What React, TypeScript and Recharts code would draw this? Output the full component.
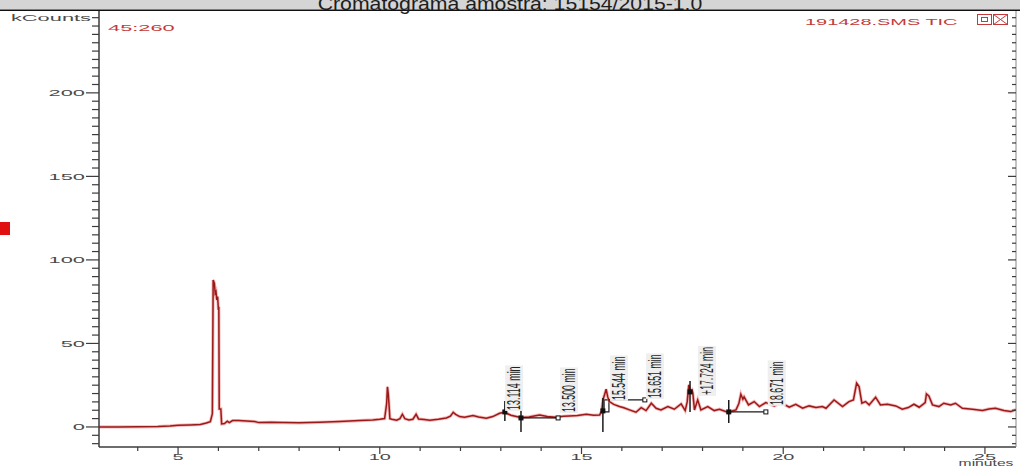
import { LineChart, Line, XAxis, YAxis, ReferenceLine, ReferenceDot, ReferenceArea } from "recharts";

// retention time (min) and TIC signal (kCounts)
const times = [
  3.04, 3.5, 4.0, 4.5, 4.8, 5.0, 5.3, 5.55, 5.7, 5.8, 5.85, 5.87, 5.9, 5.92, 5.94, 5.96, 5.98, 6.0, 6.01, 6.02,
  6.06, 6.08, 6.15, 6.22, 6.27, 6.35, 6.5, 6.7, 6.9, 7.0, 7.3, 7.6, 8.0, 8.5, 9.0, 9.5, 9.83, 10.0, 10.12, 10.17,
  10.19, 10.21, 10.23, 10.25, 10.3, 10.42, 10.5, 10.56, 10.62, 10.72, 10.82, 10.9, 10.96, 11.1, 11.24, 11.45, 11.65,
  11.75, 11.82, 11.88, 11.98, 12.1, 12.31, 12.45, 12.64, 12.8, 12.97, 13.09, 13.25, 13.49, 13.7, 13.96, 14.15, 14.37,
  14.55, 14.7, 14.9, 15.12, 15.3, 15.45, 15.5, 15.53, 15.58, 15.61, 15.65, 15.69, 15.8, 15.94, 16.05, 16.19, 16.35,
  16.48, 16.6, 16.73, 16.85, 16.97, 17.14, 17.3, 17.47, 17.57, 17.62, 17.66, 17.7, 17.74, 17.76, 17.8, 17.88, 17.96,
  18.13, 18.29, 18.42, 18.62, 18.83, 18.9, 18.95, 19.0, 19.03, 19.14, 19.28, 19.41, 19.57, 19.78, 19.94, 20.15, 20.31,
  20.48, 20.64, 20.81, 20.97, 21.06, 21.26, 21.47, 21.63, 21.74, 21.82, 21.88, 21.95, 22.04, 22.13, 22.29, 22.41,
  22.58, 22.79, 22.95, 23.1, 23.24, 23.37, 23.52, 23.55, 23.61, 23.7, 23.86, 23.98, 24.15, 24.27, 24.44, 24.69, 24.94,
  25.1, 25.26, 25.47, 25.64, 25.77,
];
const kcounts = [
  0.0, 0.0, 0.1, 0.2, 0.6, 1.0, 1.2, 1.5, 2.4, 3.2, 8, 88, 86, 80, 81, 76, 78, 70, 72, 10.8,
  10.8, 1.8, 2.0, 3.4, 2.6, 3.8, 3.8, 3.5, 3.2, 2.6, 2.8, 2.6, 2.5, 2.8, 3.2, 3.8, 4.2, 4.6, 5.0, 14,
  24, 20, 13, 5, 4.6, 4.0, 5.0, 7.6, 5.0, 4.2, 4.6, 7.6, 4.8, 4.4, 4.0, 4.6, 5.4,
  6.5, 8.8, 7.5, 6.2, 5.8, 6.8, 6.0, 5.2, 6.2, 8.2, 8.8, 7.0, 5.6, 6.0, 7.2, 6.2, 5.8,
  6.4, 6.6, 6.8, 7.6, 7.0, 7.2, 9.5, 16, 20, 22.6, 18, 15.2, 13.5, 12.2, 11.5, 10.2, 8.8,
  11.6, 9.8, 14.2, 11.2, 10.2, 12.2, 10.6, 13.8, 9.8, 15, 25.2, 21, 22, 20.2, 10.2, 16.2, 10.2,
  12.2, 9.8, 10.6, 8.8, 10.2, 14, 19.6, 16.6, 18, 13.2, 15.2, 12.2, 14.6, 12.6, 14.6, 11.8, 13.6,
  11.2, 12.6, 11.6, 12.2, 11.2, 16.2, 12.2, 15.2, 16.2, 26.2, 24.2, 14.2, 15.2, 13.2, 17.8, 13.2,
  13.6, 12.6, 10.6, 11.6, 13.6, 11.8, 14.6, 19.8, 18.6, 13.2, 12.2, 14.2, 13.2, 14.2, 11.2, 10.6, 9.8,
  10.8, 11.2, 9.8, 9.2, 10.4,
];
const data = times.map((t, i) => ({ t, v: kcounts[i] }));

const yLabelTicks = [0, 50, 100, 150, 200];
const xLabelTicks = [5, 10, 15, 20, 25];
const yTicks = Array.from({ length: 52 }, (_, i) => -10 + i * 5);
const xTicks = Array.from({ length: 22 }, (_, i) => 4 + i);

// peak annotations
const peakLabels = ["13.114 min", "13.500 min", "15.544 min", "15.651 min", "+17.724 min", "18.671 min"];
const peakLabelT = [13.33, 14.69, 15.93, 16.82, 18.11, 19.84];
const peakLabelV = [10.2, 9.0, 16.2, 17.4, 19.2, 13.2];

const markT = [13.1, 13.5, 15.53, 17.69, 18.65];
const markV = [9.0, 5.4, 9.6, 21.0, 9.0];
const markTop = [15.6, 13.2, 17.4, 27.5, 16.2];
const markBottom = [3.6, -3.0, -3.0, 9.0, 2.4];

const baseStart = [13.5, 15.68, 18.65];
const baseEnd = [14.42, 16.57, 19.57];
const baseV = [5.4, 16.2, 9.0];

const FONT = "'Liberation Sans', Arial, sans-serif";
const AXIS = "#3c3c3c";
const LABEL = "#4a4a4a";
const RED = "#c23a3a";

function LeftTick(props: any) {
  const { x, y, payload } = props;
  const v = payload.value;
  const major = v % 50 === 0;
  const len = major ? 13 : 7;
  const label = v === 245 ? "kCounts" : yLabelTicks.includes(v) ? String(v) : null;
  return (
    <g>
      <line x1={x - len} x2={x} y1={y} y2={y} stroke={AXIS} strokeWidth={1.2} />
      {label && (
        <text
          transform={`translate(${x - len - 1},${y + 3.5}) scale(2.3,1)`}
          textAnchor="end"
          fontSize={9.5}
          fontFamily={FONT}
          fill={LABEL}
        >
          {label}
        </text>
      )}
    </g>
  );
}

function RightTick(props: any) {
  const { x, y, payload } = props;
  const len = payload.value % 50 === 0 ? 8 : 4;
  return <line x1={x - len} x2={x} y1={y} y2={y} stroke={AXIS} strokeWidth={1.2} />;
}

function BottomTick(props: any) {
  const { x, y, payload } = props;
  const v = payload.value;
  const major = xLabelTicks.includes(v);
  return (
    <g>
      <line x1={x} x2={x} y1={y} y2={y + (major ? 7 : 4)} stroke={AXIS} strokeWidth={1.2} />
      {major && (
        <text
          transform={`translate(${x},${y + 13}) scale(2.1,1)`}
          textAnchor="middle"
          fontSize={9.5}
          fontFamily={FONT}
          fill={LABEL}
        >
          {v}
        </text>
      )}
    </g>
  );
}

function PeakLabel({ cx, cy, text }: any) {
  const len = text.length * 4.35;
  return (
    <g transform={`translate(${cx},${cy}) scale(2,1) rotate(-90)`}>
      <rect x={-1} y={-4.5} width={len + 2} height={9} fill="#efefef" />
      <text
        x={0}
        y={0}
        dominantBaseline="central"
        fontSize={9}
        fontFamily={FONT}
        fill="#222"
        textLength={len}
        lengthAdjust="spacingAndGlyphs"
      >
        {text}
      </text>
    </g>
  );
}

export default function App() {
  return (
    <div style={{ position: "absolute", left: 0, top: 0, width: 1020, height: 467, background: "#fff", overflow: "hidden" }}>
      <LineChart width={1020} height={467} data={data} margin={{ top: 11, right: 0, bottom: 0, left: 0 }}>
        <XAxis
          dataKey="t"
          type="number"
          domain={[3.04, 25.77]}
          ticks={xTicks}
          interval={0}
          tick={<BottomTick />}
          tickLine={false}
          tickSize={0}
          tickMargin={0}
          height={20}
          axisLine={{ stroke: AXIS, strokeWidth: 1.5 }}
          allowDataOverflow
        />
        <YAxis
          type="number"
          domain={[-12, 249]}
          ticks={yTicks}
          interval={0}
          width={99}
          tick={<LeftTick />}
          tickLine={false}
          tickSize={0}
          tickMargin={0}
          axisLine={{ stroke: AXIS, strokeWidth: 1.5 }}
          allowDataOverflow
        />
        <YAxis
          yAxisId="r"
          orientation="right"
          type="number"
          domain={[-12, 249]}
          ticks={yTicks}
          interval={0}
          width={4}
          tick={<RightTick />}
          tickLine={false}
          tickSize={0}
          tickMargin={0}
          axisLine={{ stroke: "#888", strokeWidth: 1 }}
          allowDataOverflow
        />
        <Line
          yAxisId="r"
          type="linear"
          dataKey="v"
          stroke="#ee8080"
          strokeOpacity={0.55}
          strokeWidth={3.2}
          dot={false}
          isAnimationActive={false}
        />
        <Line type="linear" dataKey="v" stroke="#9a1a1a" strokeWidth={1.5} dot={false} isAnimationActive={false} />

        {baseStart.map((t, i) => (
          <ReferenceLine
            key={`b${i}`}
            segment={[{ x: t, y: baseV[i] }, { x: baseEnd[i], y: baseV[i] }]}
            stroke="#1a1a1a"
            strokeWidth={1.2}
          />
        ))}
        <ReferenceArea x1={15.56} x2={15.68} y1={9.0} y2={16.2} fill="none" stroke="#1a1a1a" strokeWidth={1.2} fillOpacity={0} />
        {markT.map((t, i) => (
          <ReferenceLine
            key={`m${i}`}
            segment={[{ x: t, y: markTop[i] }, { x: t, y: markBottom[i] }]}
            stroke="#1a1a1a"
            strokeWidth={1.5}
          />
        ))}
        {markT.map((t, i) => (
          <ReferenceDot
            key={`d${i}`}
            x={t}
            y={markV[i]}
            shape={(p: any) => <rect x={p.cx - 2.5} y={p.cy - 2.5} width={5} height={5} fill="#111" />}
          />
        ))}
        {baseEnd.map((t, i) => (
          <ReferenceDot
            key={`e${i}`}
            x={t}
            y={baseV[i]}
            shape={(p: any) => (
              <rect x={p.cx - 2} y={p.cy - 2} width={4} height={4} fill="#fff" stroke="#111" strokeWidth={1} />
            )}
          />
        ))}
        {peakLabels.map((txt, i) => (
          <ReferenceDot
            key={`l${i}`}
            x={peakLabelT[i]}
            y={peakLabelV[i]}
            shape={(p: any) => <PeakLabel cx={p.cx} cy={p.cy} text={txt} />}
          />
        ))}
      </LineChart>

      <svg width={1020} height={467} style={{ position: "absolute", left: 0, top: 0, pointerEvents: "none" }}>
        <rect x={0} y={0} width={1020} height={9.5} fill="#d5d5d5" />
        <line x1={0} x2={1020} y1={10.2} y2={10.2} stroke="#111" strokeWidth={1.6} />
        <text
          transform="translate(510,10) scale(1.18,1)"
          textAnchor="middle"
          fontSize={18}
          fontFamily={FONT}
          fill="#1e1e1e"
        >
          Cromatograma amostra: 15154/2015-1.0
        </text>
        <text transform="translate(108,31) scale(2.3,1)" fontSize={9.5} fontFamily={FONT} fill={RED}>
          45:260
        </text>
        <text transform="translate(805,25) scale(2.1,1)" fontSize={9.5} fontFamily={FONT} fill={RED}>
          191428.SMS TIC
        </text>
        <rect x={977.5} y={14.5} width={14} height={10} fill="none" stroke={RED} strokeWidth={1} />
        <rect x={981.5} y={17.5} width={6} height={4} fill="none" stroke={RED} strokeWidth={1} />
        <rect x={993.5} y={14.5} width={14} height={10} fill="none" stroke={RED} strokeWidth={1} />
        <line x1={993.5} y1={14.5} x2={1007.5} y2={24.5} stroke={RED} strokeWidth={1} />
        <line x1={1007.5} y1={14.5} x2={993.5} y2={24.5} stroke={RED} strokeWidth={1} />
        <rect x={0} y={222} width={10} height={13} fill="#e01010" />
        <text transform="translate(986,466) scale(1.65,1)" textAnchor="middle" fontSize={9.5} fontFamily={FONT} fill={LABEL}>
          minutes
        </text>
      </svg>
    </div>
  );
}
